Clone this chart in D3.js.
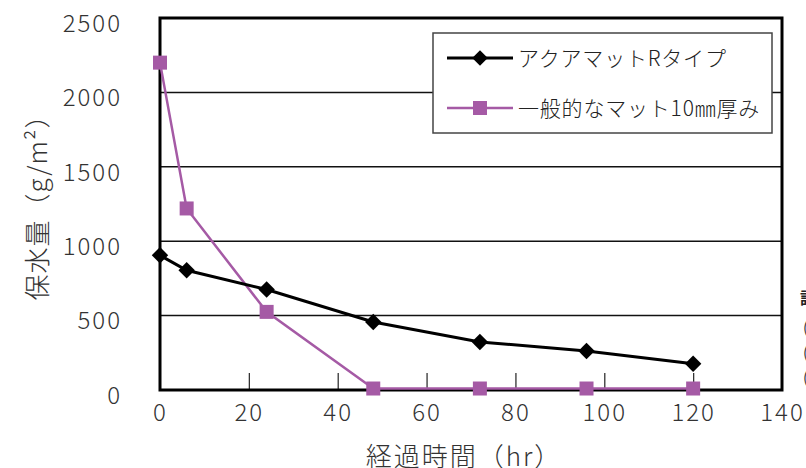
<!DOCTYPE html>
<html>
<head>
<meta charset="utf-8">
<script src="https://d3js.org/d3.v7.min.js"></script>
<style>
  body { margin: 0; background: #fff; }
  svg text { font-family: "Noto Sans CJK JP", "Noto Sans", sans-serif; }
</style>
</head>
<body>
<div id="chart"></div>
<script>
// data
var hours = [0, 6, 24, 48, 72, 96, 120];
var aquaMat = [905, 805, 675, 457, 323, 262, 177];      // アクアマットRタイプ
var normalMat = [2200, 1220, 525, 10, 10, 10, 10];       // 一般的なマット10㎜厚み
var seriesNames = ["アクアマットRタイプ", "一般的なマット10㎜厚み"];
var xTicks = [0, 20, 40, 60, 80, 100, 120, 140];
var yTicks = [0, 500, 1000, 1500, 2000, 2500];

var W = 806, H = 468;
var pLeft = 160, pRight = 782, pTop = 18, pBottom = 390;

var svg = d3.select("#chart").append("svg")
  .attr("width", W).attr("height", H);

var x = d3.scaleLinear().domain([0, 140]).range([pLeft, pRight]);
var y = d3.scaleLinear().domain([0, 2500]).range([pBottom, pTop]);

// horizontal grid lines
svg.append("g").selectAll("line")
  .data(yTicks.filter(function (d) { return d > 0 && d < 2500; }))
  .enter().append("line")
  .attr("x1", pLeft).attr("x2", pRight)
  .attr("y1", function (d) { return y(d); })
  .attr("y2", function (d) { return y(d); })
  .attr("stroke", "#111").attr("stroke-width", 1.5);

// x axis: ticks pointing up into the plot
var xAxis = svg.append("g")
  .attr("transform", "translate(0," + pBottom + ")")
  .call(d3.axisBottom(x).tickValues(xTicks).tickFormat(d3.format("d"))
    .tickSize(-17).tickPadding(14));
xAxis.select(".domain").remove();
xAxis.selectAll(".tick line")
  .attr("stroke", "#333").attr("stroke-width", 1.3)
  .attr("display", function (d) { return (d === 0 || d === 140) ? "none" : null; });
xAxis.selectAll("text")
  .attr("font-size", 24).attr("fill", "#333").attr("font-weight", 300)
  .attr("letter-spacing", 2);

// y axis labels
var yAxis = svg.append("g")
  .attr("transform", "translate(" + pLeft + ",0)")
  .call(d3.axisLeft(y).tickValues(yTicks).tickFormat(d3.format("d"))
    .tickSize(0).tickPadding(38));
yAxis.select(".domain").remove();
yAxis.selectAll("text")
  .attr("font-size", 24).attr("fill", "#333").attr("font-weight", 300)
  .attr("letter-spacing", 2)
  .attr("dy", "0.55em");

// plot frame
svg.append("rect")
  .attr("x", pLeft).attr("y", pTop)
  .attr("width", pRight - pLeft).attr("height", pBottom - pTop)
  .attr("fill", "none").attr("stroke", "#000").attr("stroke-width", 3);

var line = d3.line()
  .x(function (d) { return x(d[0]); })
  .y(function (d) { return y(d[1]); });

var aquaPts = hours.map(function (h, i) { return [h, aquaMat[i]]; });
var normalPts = hours.map(function (h, i) { return [h, normalMat[i]]; });

var purple = "#a55aa5";

// purple series
svg.append("path").datum(normalPts)
  .attr("d", line).attr("fill", "none")
  .attr("stroke", purple).attr("stroke-width", 2.5);

// black series
svg.append("path").datum(aquaPts)
  .attr("d", line).attr("fill", "none")
  .attr("stroke", "#000").attr("stroke-width", 3);

svg.append("g").selectAll("path")
  .data(aquaPts).enter().append("path")
  .attr("d", d3.symbol().type(d3.symbolSquare).size(135)())
  .attr("transform", function (d) { return "translate(" + x(d[0]) + "," + y(d[1]) + ") rotate(45)"; })
  .attr("fill", "#000");

svg.append("g").selectAll("rect")
  .data(normalPts).enter().append("rect")
  .attr("x", function (d) { return x(d[0]) - 7; })
  .attr("y", function (d) { return y(d[1]) - 7; })
  .attr("width", 14).attr("height", 14)
  .attr("fill", purple);

// legend
var lg = svg.append("g");
lg.append("rect")
  .attr("x", 433).attr("y", 33).attr("width", 339).attr("height", 100)
  .attr("fill", "#fff").attr("stroke", "#444").attr("stroke-width", 1.5);

var legendRows = [
  { name: seriesNames[0], color: "#000", w: 3, sym: "diamond", y: 58 },
  { name: seriesNames[1], color: purple, w: 2.5, sym: "square", y: 108 }
];
legendRows.forEach(function (r) {
  lg.append("line")
    .attr("x1", 447).attr("x2", 513).attr("y1", r.y).attr("y2", r.y)
    .attr("stroke", r.color).attr("stroke-width", r.w);
  if (r.sym === "diamond") {
    lg.append("path")
      .attr("d", d3.symbol().type(d3.symbolSquare).size(120)())
      .attr("transform", "translate(480," + r.y + ") rotate(45)")
      .attr("fill", r.color);
  } else {
    lg.append("rect")
      .attr("x", 473).attr("y", r.y - 7).attr("width", 14).attr("height", 14)
      .attr("fill", r.color);
  }
  lg.append("text")
    .attr("x", 518).attr("y", r.y).attr("dy", "0.36em")
    .attr("font-size", 21).attr("fill", "#222").attr("font-weight", 300)
    .attr("letter-spacing", 0.8)
    .text(r.name);
});

// axis titles
svg.append("text")
  .attr("transform", "translate(38,201) rotate(-90)")
  .attr("text-anchor", "middle").attr("dy", "0.36em")
  .attr("font-size", 26).attr("fill", "#333").attr("font-weight", 300)
  .attr("letter-spacing", 1)
  .text("保水量（g/m²）");

svg.append("text")
  .attr("x", 464).attr("y", 466)
  .attr("text-anchor", "middle")
  .attr("font-size", 26).attr("fill", "#333").attr("font-weight", 300)
  .attr("letter-spacing", 2)
  .text("経過時間（hr）");

// clipped text at the right edge of the original page
svg.append("text").attr("x", 800).attr("y", 304)
  .attr("font-size", 16).attr("font-weight", 700).attr("fill", "#222").text("詳");
["(", "(", "("].forEach(function (t, i) {
  svg.append("text").attr("x", 803).attr("y", 333 + i * 25)
    .attr("font-size", 15).attr("fill", "#333").text(t);
});
</script>
</body>
</html>
